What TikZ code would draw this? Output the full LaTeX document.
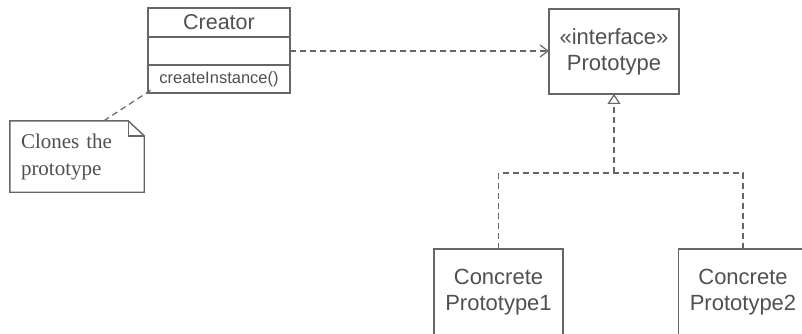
\documentclass[tikz,border=0pt]{standalone}
\usepackage{fontspec}
\setmainfont{Liberation Sans}
\newfontfamily\notefont{Liberation Serif}
\usetikzlibrary{arrows.meta,calc}
\definecolor{ink}{HTML}{505050}
\definecolor{edge}{HTML}{666666}
\tikzset{
  every node/.style={text=ink},
  umlbox/.style={draw=edge, line width=1.4pt, inner sep=0pt, outer sep=0pt, align=center},
  dep/.style={draw=edge, line width=1.2pt, dash pattern=on 6pt off 4pt},
}
\begin{document}
\begin{tikzpicture}[x=1pt,y=-1pt]
\useasboundingbox (0,0) rectangle (802,334);
\clip (0,0) rectangle (802,334);
\fill[white] (0,0) rectangle (802,334);
% Creator class
\node[umlbox, minimum width=142pt, minimum height=29pt, anchor=north west, font=\fontsize{21.5}{24}\selectfont] (ct) at (148,8) {Creator};
\node[umlbox, minimum width=142pt, minimum height=28pt, anchor=north] (ca) at (ct.south) {};
\node[umlbox, minimum width=142pt, minimum height=28pt, anchor=north, font=\fontsize{16.5}{20}\selectfont] (cm) at (ca.south) {createInstance()};
% Prototype interface
\node[umlbox, minimum width=130pt, minimum height=85pt, font=\fontsize{22}{26}\selectfont] (proto) at (614,51.5) {«interface»\\Prototype};
% Concrete classes
\node[umlbox, minimum width=129pt, minimum height=86pt, font=\fontsize{22}{26}\selectfont] (c1) at (498.5,292) {Concrete\\Prototype1};
\node[umlbox, minimum width=129pt, minimum height=86pt, font=\fontsize{22}{26}\selectfont] (c2) at (743,292) {Concrete\\Prototype2};
% Note
\node[inner sep=0pt, minimum width=134pt, minimum height=71pt, text width=112pt, align=left, font=\notefont\fontsize{21}{27}\selectfont] (note) at (77,156.5) {Clones the\\prototype};
\draw[edge, line width=1.4pt, line join=miter] (note.north west) -- ($(note.north east)+(-16,0)$) -- ($(note.north east)+(0,15)$) -- (note.south east) -- (note.south west) -- cycle;
\draw[edge, line width=1.4pt] ($(note.north east)+(-16,0)$) |- ($(note.north east)+(0,15)$);
% Connectors
\draw[dep, -{Straight Barb[length=8pt,width=12pt,line width=1.2pt]}] (ca.east) -- (ca.east -| proto.west);
\draw[dep] ($(note.north west)!0.7!(note.north east)$) -- ($(cm.south west)+(3,-3)$);
\coordinate (j) at (614,173);
\draw[dep] (c1.north) |- (j) -| (c2.north);
\draw[dep, -{Triangle[open, length=10pt, width=13pt, line width=1.2pt]}] (j) -- (proto.south);
\end{tikzpicture}
\end{document}
